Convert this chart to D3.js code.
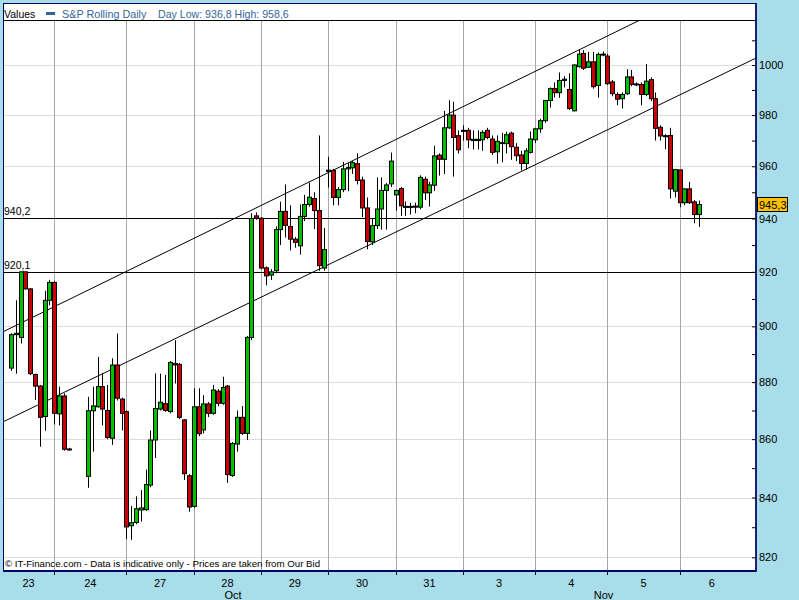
<!DOCTYPE html>
<html><head><meta charset="utf-8">
<script src="https://cdn.jsdelivr.net/npm/d3@7/dist/d3.min.js"></script>
<style>
body{margin:0;background:#a9dde9;}
svg{display:block;font-family:"Liberation Sans",Arial,sans-serif;}
</style>
</head><body>
<svg id="chart" width="799" height="600"></svg>
<script>
// ---------------- DATA ----------------
const seriesName = "S&P Rolling Daily";
const dayLowText = "936,8";
const dayHighText = "958,6";
const dayLabels = ["23","24","27","28","29","30","31","3","4","5","6"];
const dayBarCounts = [9,15,14,14,14,14,14,15,15,15,5];
const monthLabels = ["Oct","Nov"];
const monthDayCounts = [7,4];
const yTickValues = [820,840,860,880,900,920,940,960,980,1000];
const yMinorTickValues = [830,850,870,890,910,930,950,970,990,1010];
const refLevels = [940.2, 920.1];
const lastPrice = 945.3;
const copyrightText = "\u00A9 IT-Finance.com - Data is indicative only - Prices are taken from Our Bid";
// trend channel anchors: [bar index, price]
const trendUpper = [[-2.29, 897.5], [130.8, 1018.3]];
const trendLower = [[-2.29, 865.5], [154.9, 1002.8]];

const opens = [885,897,896,920,913.7,882.7,878.6,867.9,909.5,916.1,868.8,875.1,856.5,null,null,null,
847.2,869.9,871.3,878.4,870,860.3,886.1,874,869.6,830.5,831.6,835.8,835.9,844.2,859.7,870.5,872.4,869.6,886.6,886.3,866.7,847.4,
837,871.3,863.2,872.3,869,876.8,872.5,878.6,847.5,858.3,867.6,862,896,941,
940.1,921.5,918.8,920.4,935.8,942.7,937,932.2,929.7,940.8,945.3,947.6,943,921.4,
958,958.4,948,951,959,959.4,961,954.7,944,931.2,937.3,943.6,950.7,953.2,
949,951.4,944.5,944.6,944.7,944.3,955,949.8,952.7,964.3,962.7,975,980,971.9,
974,974,970,970.5,970.3,974,970.6,965.6,969,968.8,972.9,967.4,964.4,961.1,965.4,
970.3,974.6,977.8,985.8,990.5,988.9,993.8,990.2,981.7,999.3,1004.7,999.1,1001.3,991.8,1004.2,
1003.6,993.2,988.2,986.5,988.5,995.2,992.3,992.2,988.2,994.1,986.5,975.2,971.8,972,950.4,
958.6,946,951.3,946.3,941.5];
const highs = [897.5,909.5,920.1,920.1,914,883,879,913,917,916.5,878.4,876,857,null,null,null,
874.8,878.4,889,883.1,879,888.5,897.4,874.5,870,837.1,840.4,842.5,849.5,863,883.1,883,882.5,887.5,895,886.8,867,848,
877.8,877.8,875.4,873,879,877.5,881.9,879,859,870,871.6,896.5,942,942.3,
940.5,922,921,937,946.4,953,945,933,945.3,949,953.7,950,972,936.4,
963.7,959,952,961.7,961.3,962,965,956,948,940,955.7,955.7,953.5,965.3,
951,952,946.5,946,946,956.5,956,954,968,965,981.7,985.9,985.3,974,
976,975,974,974,974,975,972,972,973,973.5,973.5,969,966,967,973.6,
975,978.5,986,991,993,997,995.5,996.7,1000.3,1006.3,1006,1005.3,1005.3,1005,1005.5,
1004.4,994,989,989,998.3,998,993,993,1000.4,995,989,976,972.5,975,959,
958.6,951.5,954,947,946.8];
const lows = [884,883,893.8,913.5,882.5,873.7,857.4,862.9,907.7,865.1,864.8,856,856,null,null,null,
843.3,855.7,871,864.8,860,858,873.5,863,826,825.8,831,831.9,835.5,843.5,853.5,870,869.5,869,879.5,867,846,835.2,
836.5,861,862,867.7,868.5,871.5,872,845,847,855.7,861.5,859.7,895,939.5,
921,915,917,919.5,930,932.8,928,929,926.4,939,944.5,936,920.4,920.4,
951.8,945,945,950,950.4,957,953,940.5,928.4,930,936,935.8,935.8,952,
943,941,941,941.5,942,943.5,947,944.5,950.5,956.4,957,974.5,956,965,
970,967,966.5,966.5,966,970.5,964.4,961,961.5,965,962.5,962,958.4,958.7,965,
969,973,977,983,987,986.9,991,982,981.5,999,998,998.8,990.5,986.9,1003.5,
992,987.5,983.9,982.6,988,991.5,991.5,983.9,987.5,985.5,970,970,966.6,947.6,948,
944.3,945,945.5,938.2,936.8];
const closes = [897,897.5,920,913.7,883,878.6,867.6,909.5,916.1,869,875.1,856.5,856.6,null,null,null,
869.9,871.6,878.4,870.5,860.6,886.1,874.3,869,830.1,831.5,836.2,836.5,844.4,859.7,870.7,872.9,870,887,886.1,867.6,848.1,836.8,
871.3,861.9,872.3,869,877.2,872.5,878.1,847.8,858.5,867.6,862,896,940,940,
921.4,918.5,920,935.8,942.7,937.4,932.2,931,940.8,945.3,948.1,943,922.3,928.3,
958.5,948,951,959,959.5,961.4,954.5,944,931.3,937.3,943.6,950.7,952.8,962,
950.7,944.8,944.6,944.5,944.3,955.7,949.8,952.8,964,962.7,975,980,971.2,966.4,
974,970.3,970.5,970,973.2,971.2,965.4,969.7,969.2,972.3,967.6,964.1,961.1,966,970.6,
974.6,977.8,985.8,990.5,988.9,993.8,994.3,982.6,1000,1004.4,998.7,1001.3,991.3,1004.3,1004.4,
992.5,988.5,986.3,988.2,995.2,992.2,992.4,988.2,993.5,986.5,974.8,971.8,971.9,951.3,958.7,
946,951.3,946,941.5,945.3];

// ---------------- LAYOUT ----------------
const plot = {left: 3, right: 756, top: 20, bottom: 570.5};
const svg = d3.select("#chart");
const fmt = v => d3.format(".1f")(v).replace(".", ",");

const x = d3.scaleLinear().domain([-1.66, 154.9]).range([plot.left, plot.right]);
const y = d3.scaleLog().domain([820, 1000]).range([557.3, 65]);

// frame
svg.append("rect").attr("x", 3.5).attr("y", 3.5).attr("width", 752.5).attr("height", 567)
  .attr("fill", "#ffffff").attr("stroke", "#000066").attr("stroke-width", 1);

const defs = svg.append("defs");
defs.append("clipPath").attr("id", "plotclip").append("rect")
  .attr("x", plot.left + 1).attr("y", plot.top + 1)
  .attr("width", plot.right - plot.left - 1).attr("height", plot.bottom - plot.top - 1.5);
const g = svg.append("g").attr("clip-path", "url(#plotclip)");

// horizontal gridlines
g.selectAll("line.hg").data(yTickValues).join("line")
  .attr("x1", plot.left).attr("x2", plot.right)
  .attr("y1", d => Math.round(y(d)) + 0.5).attr("y2", d => Math.round(y(d)) + 0.5)
  .attr("stroke", "#dcdcdc").attr("stroke-width", 1);

// day boundaries
const dayStarts = [];
let acc = 0;
dayBarCounts.forEach(c => { dayStarts.push(acc); acc += c; });
const boundaries = dayStarts.slice(1);
g.selectAll("line.vg").data(boundaries).join("line")
  .attr("x1", d => Math.round(x(d)) + 0.5).attr("x2", d => Math.round(x(d)) + 0.5)
  .attr("y1", plot.top).attr("y2", plot.bottom)
  .attr("stroke", "#a8a8a8").attr("stroke-width", 1);

// reference levels
g.selectAll("line.ref").data(refLevels).join("line")
  .attr("x1", plot.left).attr("x2", plot.right)
  .attr("y1", d => Math.round(y(d)) + 0.5).attr("y2", d => Math.round(y(d)) + 0.5)
  .attr("stroke", "#000").attr("stroke-width", 1);
svg.selectAll("text.ref").data(refLevels).join("text")
  .attr("x", 4).attr("y", d => Math.round(y(d)) - 3)
  .attr("font-size", 10.5).attr("fill", "#000").text(d => fmt(d));

// trend channel
[trendUpper, trendLower].forEach(t => {
  g.append("line")
    .attr("x1", x(t[0][0])).attr("y1", y(t[0][1]))
    .attr("x2", x(t[1][0])).attr("y2", y(t[1][1]))
    .attr("stroke", "#000").attr("stroke-width", 1);
});

// candles
const bars = opens.map((o, i) => ({i, o, h: highs[i], l: lows[i], c: closes[i]})).filter(d => d.o != null);
const cg = g.append("g");
cg.selectAll("line.wick").data(bars).join("line")
  .attr("x1", d => Math.round(x(d.i)) + 0.5).attr("x2", d => Math.round(x(d.i)) + 0.5)
  .attr("y1", d => y(d.h)).attr("y2", d => y(d.l))
  .attr("stroke", "#000").attr("stroke-width", 1);
cg.selectAll("rect.body").data(bars).join("rect")
  .attr("x", d => Math.round(x(d.i)) - 1.5)
  .attr("y", d => Math.min(y(d.o), y(d.c)))
  .attr("width", 4)
  .attr("height", d => Math.max(1, Math.abs(y(d.o) - y(d.c))))
  .attr("fill", d => d.c >= d.o ? "#00c000" : "#cc0000")
  .attr("stroke", "#000").attr("stroke-width", 1);

// header
svg.append("line").attr("x1", 3).attr("x2", 756).attr("y1", 20.5).attr("y2", 20.5)
  .attr("stroke", "#000").attr("stroke-width", 1);
svg.append("text").attr("x", 4).attr("y", 18).attr("font-size", 10.5).attr("fill", "#000").text("Values");
svg.append("rect").attr("x", 46).attr("y", 12).attr("width", 9).attr("height", 3).attr("fill", "#336699");
svg.append("text").attr("x", 62).attr("y", 18).attr("font-size", 10.8).attr("fill", "#336699").text(seriesName);
svg.append("text").attr("x", 158).attr("y", 18).attr("font-size", 10.6).attr("fill", "#336699")
  .text("Day Low: " + dayLowText + " High: " + dayHighText);

// copyright
svg.append("text").attr("x", 5).attr("y", 567).attr("font-size", 9.7).attr("fill", "#000").text(copyrightText);

// right & bottom borders
svg.append("line").attr("x1", 756).attr("x2", 756).attr("y1", 3).attr("y2", 571.5)
  .attr("stroke", "#000066").attr("stroke-width", 1.5);
svg.append("line").attr("x1", 3).attr("x2", 756.5).attr("y1", 571).attr("y2", 571)
  .attr("stroke", "#000066").attr("stroke-width", 2);

// right axis
const yAxis = d3.axisRight(y).tickValues(yTickValues).tickSizeInner(-4).tickSizeOuter(0)
  .tickPadding(3).tickFormat(d3.format("d"));
const ya = svg.append("g").attr("transform", `translate(756,0)`).call(yAxis);
ya.select(".domain").remove();
ya.selectAll("text").attr("font-size", 11).attr("font-family", "Liberation Sans, Arial, sans-serif").attr("fill", "#000");
ya.selectAll("line").attr("stroke", "#000");
const yMinor = d3.axisRight(y).tickValues(yMinorTickValues).tickSizeInner(-4).tickSizeOuter(0).tickFormat("");
const ym = svg.append("g").attr("transform", `translate(756,0)`).call(yMinor);
ym.select(".domain").remove();
ym.selectAll("line").attr("stroke", "#000");

// last price label
const lp = svg.append("g").attr("transform", `translate(757,${Math.round(y(lastPrice))})`);
lp.append("rect").attr("x", 0.5).attr("y", -7.5).attr("width", 30).attr("height", 14)
  .attr("fill", "#ffc000").attr("stroke", "#000");
lp.append("text").attr("x", 2).attr("y", 4).attr("font-size", 11).attr("fill", "#000").text(fmt(lastPrice));

// bottom axis
const axisEnd = 152.4;
svg.selectAll("line.xt").data(boundaries).join("line")
  .attr("x1", d => Math.round(x(d)) + 0.5).attr("x2", d => Math.round(x(d)) + 0.5)
  .attr("y1", 571).attr("y2", 575).attr("stroke", "#000");
const dayCenters = dayStarts.map((s, k) => {
  const a = k === 0 ? x.domain()[0] : s;
  const b = k === dayStarts.length - 1 ? axisEnd : dayStarts[k + 1];
  return (x(a) + x(b)) / 2;
});
svg.selectAll("text.day").data(dayLabels).join("text")
  .attr("x", (d, k) => dayCenters[k]).attr("y", 587)
  .attr("text-anchor", "middle").attr("font-size", 11).attr("fill", "#000").text(d => d);
let dayAcc = 0;
const monthCenters = monthDayCounts.map(n => {
  const first = dayAcc, last = dayAcc + n;
  dayAcc = last;
  const a = first === 0 ? x.domain()[0] : dayStarts[first];
  const b = last >= dayStarts.length ? axisEnd : dayStarts[last];
  return (x(a) + x(b)) / 2;
});
svg.selectAll("text.month").data(monthLabels).join("text")
  .attr("x", (d, k) => monthCenters[k]).attr("y", 599)
  .attr("text-anchor", "middle").attr("font-size", 11).attr("fill", "#000").text(d => d);
</script>
</body></html>
